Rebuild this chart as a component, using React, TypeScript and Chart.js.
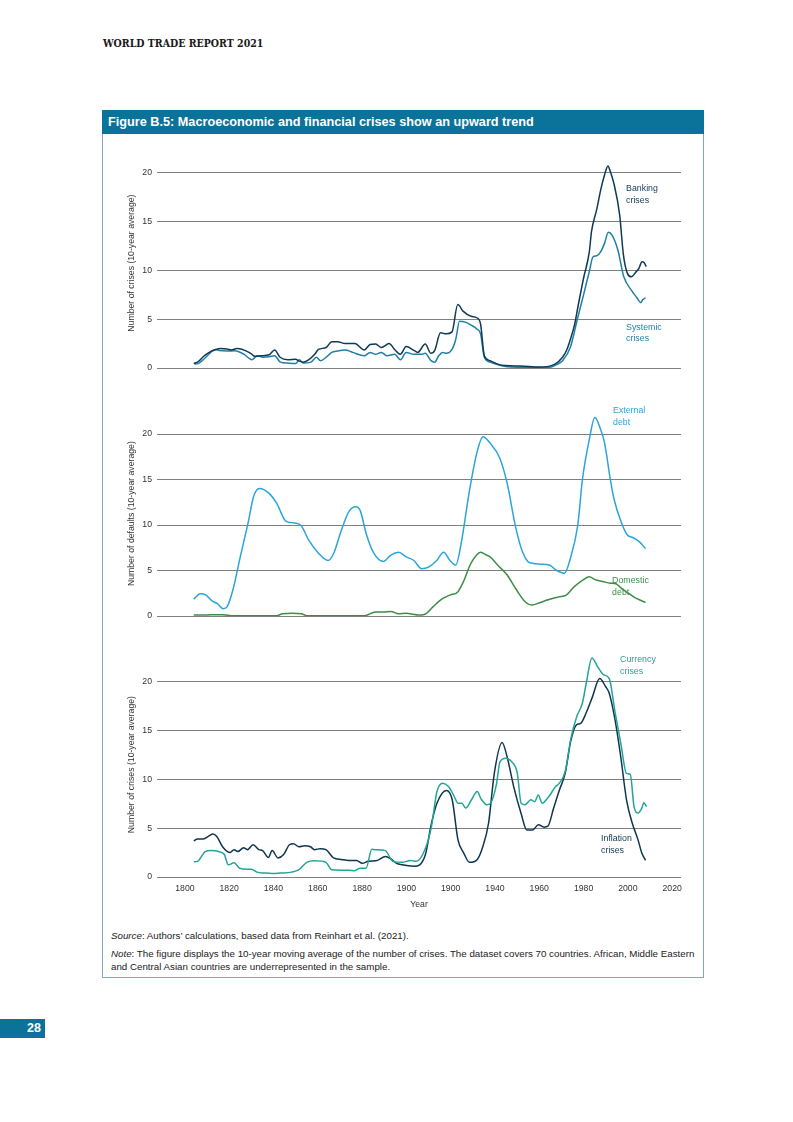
import React, { useEffect, useRef } from "react";
import { Chart, registerables } from "chart.js";

Chart.register(...registerables);

// ---------- axis data ----------
const X_MIN = 1787.4;
const X_MAX = 2024;
const tickYears = [1800, 1820, 1840, 1860, 1880, 1900, 1920, 1940, 1960, 1980, 2000, 2020];
const tickLabels = ["1800", "1820", "1840", "1860", "1880", "1900", "1900", "1940", "1960", "1980", "2000", "2020"];
const yTickValues = [0, 5, 10, 15, 20];

// ---------- panel 1: banking / systemic ----------
const bankingYears = [1804, 1806, 1808.5, 1811, 1814, 1816, 1819, 1821, 1823.5, 1826, 1828, 1830, 1831.5, 1834.5, 1838, 1840.5, 1843, 1846.5, 1850, 1851.7, 1853.4, 1856, 1858.6, 1860.3, 1863.8, 1866.3, 1868.9, 1872.4, 1876.7, 1881, 1883.6, 1886.1, 1888.7, 1892.2, 1894.7, 1897.3, 1899.9, 1903.4, 1905.1, 1908.5, 1911.1, 1912.8, 1915.4, 1918, 1920.6, 1923.2, 1925.7, 1929.2, 1931.8, 1933.5, 1935.2, 1937.8, 1941.2, 1944.7, 1951.6, 1960.2, 1967.1, 1970.5, 1972.5, 1974, 1976, 1977.4, 1980, 1982.6, 1983.6, 1986, 1987.7, 1989.5, 1991, 1992, 1993.6, 1996.3, 1998, 1999.8, 2001.6, 2003.5, 2005, 2006.4, 2007.3, 2008.3];
const bankingValues = [0.45, 0.65, 1.2, 1.6, 1.9, 2.0, 1.95, 1.85, 2.0, 1.9, 1.7, 1.45, 1.2, 1.25, 1.35, 1.85, 1.1, 0.85, 0.9, 0.7, 0.6, 0.85, 1.4, 1.9, 2.1, 2.7, 2.7, 2.5, 2.5, 1.85, 2.4, 2.45, 2.1, 2.5, 1.9, 1.4, 2.2, 1.8, 1.6, 2.45, 1.5, 1.8, 3.6, 3.5, 3.7, 6.5, 5.8, 5.3, 5.15, 4.5, 1.25, 0.75, 0.4, 0.25, 0.2, 0.1, 0.4, 1.1, 1.9, 2.9, 4.5, 6.2, 9.2, 11.9, 14, 16.3, 18.2, 19.8, 20.7, 20.2, 19, 15.7, 11.6, 9.7, 9.35, 9.8, 10.2, 10.9, 10.8, 10.4];

const systemicYears = [1804.3, 1806, 1809, 1812.1, 1813.8, 1815.5, 1819, 1822.4, 1826.7, 1830.2, 1832.8, 1835.3, 1837.9, 1840.5, 1843.1, 1846.5, 1850, 1851.7, 1853.4, 1856.9, 1859.4, 1861.2, 1863.8, 1866.3, 1868.9, 1872.4, 1875.8, 1881, 1883.6, 1886.1, 1888.7, 1891.3, 1894.7, 1897.3, 1899.9, 1903.4, 1906.8, 1908.5, 1911.1, 1912.8, 1914.6, 1916.3, 1918, 1920.6, 1922.3, 1924, 1926.6, 1929.2, 1931.8, 1933.5, 1935.2, 1937.8, 1941.2, 1944.7, 1952, 1960, 1965, 1967.9, 1970.5, 1974, 1977.4, 1980, 1982.6, 1984.3, 1986, 1987.7, 1989.5, 1991.2, 1992.9, 1995.5, 1998.1, 2001.5, 2004.1, 2005.8, 2006.7, 2008];
const systemicValues = [0.4, 0.45, 1.0, 1.7, 1.9, 1.8, 1.75, 1.76, 1.4, 0.85, 1.25, 1.1, 1.15, 1.25, 0.6, 0.5, 0.47, 0.85, 0.5, 0.6, 1.1, 0.75, 1.1, 1.6, 1.75, 1.85, 1.6, 1.25, 1.6, 1.4, 1.6, 1.25, 1.4, 0.85, 1.6, 1.4, 1.4, 1.5, 0.75, 0.6, 1.25, 1.6, 1.5, 1.9, 2.95, 4.8, 4.7, 4.4, 4.0, 3.5, 1.1, 0.6, 0.35, 0.15, 0.08, 0.05, 0.08, 0.35, 0.75, 2.1, 5.2, 7.5, 9.9, 11.4, 11.5, 11.9, 12.8, 13.9, 13.6, 12.1, 9.4, 8.0, 7.2, 6.7, 7.0, 7.2];

// ---------- panel 2: external / domestic debt ----------
const externalYears = [1804, 1806.9, 1809.5, 1812.1, 1814.7, 1817.3, 1819, 1821.6, 1825, 1828.5, 1831, 1833.6, 1837.9, 1841.4, 1845.7, 1850.1, 1852.6, 1856, 1860.3, 1864.6, 1867.2, 1870.6, 1874.1, 1877.2, 1879.3, 1881.8, 1885.3, 1889.6, 1893, 1896.5, 1899.9, 1903.4, 1906.8, 1910.2, 1913.7, 1916.8, 1919.7, 1922.3, 1924.9, 1928.3, 1931.8, 1934.6, 1937.8, 1942.1, 1945.5, 1949.3, 1952.5, 1954.8, 1956.9, 1960.2, 1964.5, 1967.9, 1971.4, 1974, 1977.4, 1979.5, 1982.6, 1985.1, 1987.7, 1989.5, 1992.1, 1993.8, 1997.2, 1999.8, 2002.4, 2005, 2008];
const externalValues = [1.85, 2.45, 2.3, 1.7, 1.35, 0.8, 1.0, 2.8, 6.5, 10.2, 13.1, 14.0, 13.5, 12.4, 10.4, 10.2, 9.9, 8.3, 6.9, 6.1, 6.9, 9.4, 11.5, 12.0, 11.5, 9.1, 6.9, 6.0, 6.7, 7.0, 6.5, 6.1, 5.2, 5.4, 6.1, 7.0, 6.1, 5.6, 8.2, 13.5, 17.9, 19.7, 19.0, 17.4, 14.6, 9.8, 7.0, 6.0, 5.8, 5.7, 5.6, 5.0, 4.7, 6.3, 10.0, 15.0, 19.4, 21.8, 20.5, 19.0, 15.0, 12.8, 10.2, 8.9, 8.6, 8.2, 7.4];

const domesticYears = [1804, 1810, 1814, 1817.3, 1821.6, 1830, 1841.4, 1844, 1848.3, 1852.6, 1855.1, 1865, 1875, 1881, 1886.1, 1889.6, 1893, 1896.5, 1899.9, 1903, 1905.1, 1908.5, 1912, 1916.3, 1919.7, 1923.2, 1925.7, 1929.2, 1933.5, 1936.1, 1937.8, 1941.2, 1945.5, 1949.9, 1953.3, 1956.7, 1960.2, 1963.6, 1968.8, 1972.2, 1975.7, 1980, 1982.6, 1985.2, 1988.6, 1992.1, 1994.6, 1997.2, 2000.6, 2004.1, 2008];
const domesticValues = [0.1, 0.12, 0.15, 0.15, 0.03, 0.02, 0.02, 0.25, 0.3, 0.25, 0.03, 0.02, 0.02, 0.03, 0.45, 0.45, 0.5, 0.25, 0.3, 0.2, 0.1, 0.2, 1.0, 1.9, 2.3, 2.65, 3.75, 5.8, 7.0, 6.7, 6.5, 5.6, 4.5, 2.8, 1.65, 1.2, 1.45, 1.75, 2.1, 2.3, 3.2, 4.0, 4.3, 4.0, 3.8, 3.6, 3.55, 3.0, 2.45, 1.9, 1.5];

// ---------- panel 3: currency / inflation ----------
const currencyYears = [1804, 1805.7, 1809.2, 1811.8, 1815.2, 1817.8, 1819.6, 1822.2, 1824.7, 1828.2, 1829.9, 1832.5, 1836, 1839.4, 1842.9, 1848.1, 1851.5, 1855, 1858.5, 1863.7, 1866.2, 1870.6, 1874, 1876.6, 1879.2, 1881.8, 1884.4, 1886.1, 1890.5, 1893.9, 1898.2, 1901.7, 1904.3, 1907.7, 1911.2, 1913.8, 1916.4, 1919, 1921.6, 1923.3, 1925, 1926.8, 1929.4, 1932, 1933.7, 1936.3, 1938, 1940.6, 1942.3, 1944.9, 1947.5, 1950.1, 1951.8, 1953.6, 1956.2, 1957.9, 1959.6, 1961.3, 1963.9, 1967.4, 1969.1, 1971.7, 1974.3, 1976.9, 1979.5, 1981.2, 1983.8, 1986.4, 1989, 1991.6, 1994.2, 1996.8, 1999.4, 2001.1, 2002.8, 2004.6, 2006.3, 2007.2, 2008.5];
const currencyValues = [1.55, 1.6, 2.6, 2.7, 2.6, 2.3, 1.25, 1.45, 0.9, 0.8, 0.8, 0.5, 0.4, 0.35, 0.4, 0.5, 0.75, 1.5, 1.65, 1.5, 0.75, 0.7, 0.7, 0.65, 0.9, 0.9, 2.85, 2.8, 2.7, 1.6, 1.5, 1.7, 1.6, 2.45, 5.0, 8.75, 9.6, 9.25, 8.25, 7.55, 7.55, 7.05, 7.9, 8.75, 8.0, 7.4, 7.55, 9.4, 11.8, 12.15, 11.8, 10.6, 7.55, 7.4, 7.9, 7.7, 8.4, 7.55, 8.1, 9.25, 9.6, 10.8, 14.2, 16.4, 17.8, 19.8, 22.4, 21.5, 20.7, 20.3, 16.9, 13.7, 10.6, 10.5, 7.2, 6.55, 7.05, 7.6, 7.2];

const inflationYears = [1804, 1805.7, 1808.3, 1810.9, 1812.6, 1814.4, 1817, 1820.4, 1822.2, 1823.9, 1826.5, 1828.2, 1830.8, 1833.4, 1835.1, 1837.7, 1839.4, 1842, 1844.6, 1847.2, 1849, 1851.5, 1854.1, 1856.7, 1858.5, 1861.1, 1863.7, 1867.1, 1870.6, 1874, 1877.5, 1880.1, 1882.7, 1887, 1890.5, 1893, 1895.6, 1898.2, 1900.8, 1903.4, 1906, 1908.6, 1911.2, 1913.8, 1918.1, 1920.7, 1923.3, 1925.9, 1928.5, 1932, 1934.5, 1937.1, 1939.7, 1943.2, 1945.8, 1948.4, 1951.8, 1954.4, 1957, 1959.6, 1962.2, 1963.9, 1966.5, 1969.1, 1971.7, 1974.3, 1976.9, 1978.6, 1981.2, 1983.8, 1987.3, 1989.9, 1991.6, 1994.2, 1996.8, 1999.4, 2002, 2004.6, 2006.3, 2008];
const inflationValues = [3.7, 3.9, 3.9, 4.2, 4.4, 4.15, 3.1, 2.5, 2.8, 2.6, 3.0, 2.8, 3.3, 2.8, 2.7, 2.0, 2.7, 1.95, 2.3, 3.3, 3.4, 3.1, 3.2, 3.1, 2.8, 2.9, 2.8, 1.95, 1.8, 1.7, 1.7, 1.4, 1.6, 1.7, 2.1, 1.85, 1.4, 1.25, 1.15, 1.1, 1.25, 2.3, 5.35, 7.55, 8.85, 7.9, 3.8, 2.45, 1.5, 1.8, 3.1, 5.5, 10.6, 13.75, 12.0, 9.3, 6.5, 4.8, 4.8, 5.35, 5.1, 5.2, 7.05, 8.9, 10.6, 14.0, 15.6, 15.7, 16.8, 18.3, 20.3, 19.5, 18.8, 16.1, 12.3, 7.9, 5.5, 3.8, 2.45, 1.7];

// ---------- colours ----------
const C_BANKING = "#0f3a55";
const C_SYSTEMIC = "#1f7fa6";
const C_EXTERNAL = "#2ba5d8";
const C_DOMESTIC = "#3d8d46";
const C_CURRENCY = "#22a596";
const C_INFLATION = "#0f3550";
const C_TEAL = "#0b7399";

const FONT = '"Liberation Sans", Arial, Helvetica, sans-serif';

type Series = { label: string; years: number[]; values: number[]; color: string };
type Note = { lines: string[]; year: number; value: number; color: string };

const seriesLabelPlugin = {
  id: "seriesLabels",
  afterDatasetsDraw(chart: any, _args: any, opts: any) {
    const { ctx, scales } = chart;
    ctx.save();
    ctx.font = `8.8px ${FONT}`;
    ctx.textAlign = "left";
    ctx.textBaseline = "middle";
    (opts.items || []).forEach((n: Note) => {
      const x = scales.x.getPixelForValue(n.year);
      const y = scales.y.getPixelForValue(n.value);
      ctx.fillStyle = n.color;
      n.lines.forEach((t, i) => ctx.fillText(t, x, y + i * 11.8));
    });
    ctx.restore();
  },
};

type PanelProps = {
  top: number;
  height: number;
  padTop: number;
  padBottom: number;
  yMax: number;
  yTitle: string;
  series: Series[];
  notes: Note[];
  showX: boolean;
};

const CANVAS_LEFT = 104;
const CANVAS_WIDTH = 596;

function Panel(p: PanelProps) {
  const ref = useRef<HTMLCanvasElement>(null);
  useEffect(() => {
    const tickFont = { family: FONT, size: 8.7 };
    const chart = new Chart(ref.current as HTMLCanvasElement, {
      type: "line",
      data: {
        datasets: p.series.map((s) => ({
          label: s.label,
          data: s.years.map((yr, i) => ({ x: yr, y: s.values[i] })),
          borderColor: s.color,
          backgroundColor: s.color,
          borderWidth: 1.5,
          pointRadius: 0,
          tension: 0.4,
          cubicInterpolationMode: "monotone" as const,
          fill: false,
        })),
      },
      options: {
        responsive: false,
        animation: false,
        events: [],
        layout: { padding: { left: 0, right: 19, top: p.padTop, bottom: p.padBottom } },
        scales: {
          x: {
            type: "linear",
            min: X_MIN,
            max: X_MAX,
            display: p.showX,
            grid: { display: false, drawTicks: false },
            border: { display: false },
            afterBuildTicks: (axis: any) => {
              axis.ticks = tickYears.map((v) => ({ value: v }));
            },
            ticks: {
              autoSkip: false,
              maxRotation: 0,
              padding: 6.5,
              color: "#333",
              font: tickFont,
              callback: (_v: any, i: number) => tickLabels[i],
            },
            title: {
              display: p.showX,
              text: "Year",
              color: "#333",
              font: tickFont,
              padding: { top: 0, bottom: 3 },
            },
            afterFit: (s: any) => {
              if (p.showX) s.height = 36;
            },
          },
          y: {
            min: 0,
            max: p.yMax,
            afterBuildTicks: (axis: any) => {
              axis.ticks = yTickValues.map((v) => ({ value: v }));
            },
            grid: { color: "#808080", lineWidth: 1, drawTicks: false },
            border: { display: false },
            ticks: { color: "#333", font: tickFont, padding: 5 },
            title: {
              display: true,
              text: p.yTitle,
              color: "#333",
              font: tickFont,
              padding: { top: 22.2, bottom: 0 },
            },
            afterFit: (s: any) => {
              s.width = 53;
            },
          },
        },
        plugins: {
          legend: { display: false },
          tooltip: { enabled: false },
          seriesLabels: { items: p.notes },
        } as any,
      },
      plugins: [seriesLabelPlugin],
    } as any);
    return () => chart.destroy();
  }, []);
  return (
    <canvas
      ref={ref}
      width={CANVAS_WIDTH}
      height={p.height}
      style={{ position: "absolute", left: CANVAS_LEFT, top: p.top, width: CANVAS_WIDTH, height: p.height }}
    />
  );
}

export default function App() {
  return (
    <div
      style={{
        position: "absolute",
        left: 0,
        top: 0,
        width: 793,
        height: 1122,
        background: "#ffffff",
        fontFamily: FONT,
        color: "#222",
        overflow: "hidden",
      }}
    >
      <div
        style={{
          position: "absolute",
          left: 103,
          top: 36,
          fontFamily: '"DejaVu Serif Condensed", "DejaVu Serif", "Liberation Serif", serif',
          fontWeight: "bold",
          fontSize: 10.5,
          lineHeight: "14px",
          color: "#1a1a1a",
          whiteSpace: "nowrap",
        }}
      >
        WORLD TRADE REPORT 2021
      </div>

      <div
        style={{
          position: "absolute",
          left: 102,
          top: 110,
          width: 602,
          height: 868,
          border: "1px solid #7fa7c0",
          boxSizing: "border-box",
        }}
      />
      <div
        style={{
          position: "absolute",
          left: 102,
          top: 110,
          width: 602,
          height: 24,
          background: C_TEAL,
          color: "#fff",
          fontWeight: "bold",
          fontSize: 12.7,
          lineHeight: "24px",
          paddingLeft: 6,
          boxSizing: "border-box",
          whiteSpace: "nowrap",
        }}
      >
        Figure B.5: Macroeconomic and financial crises show an upward trend
      </div>

      <Panel
        top={148}
        height={232}
        padTop={7.7}
        padBottom={12}
        yMax={21.5}
        yTitle="Number of crises (10-year average)"
        showX={false}
        series={[
          { label: "Banking crises", years: bankingYears, values: bankingValues, color: C_BANKING },
          { label: "Systemic crises", years: systemicYears, values: systemicValues, color: C_SYSTEMIC },
        ]}
        notes={[
          { lines: ["Banking", "crises"], year: 1999.2, value: 18.36, color: C_BANKING },
          { lines: ["Systemic", "crises"], year: 1999.2, value: 4.18, color: C_SYSTEMIC },
        ]}
      />

      <Panel
        top={392}
        height={238}
        padTop={19.25}
        padBottom={14}
        yMax={22.5}
        yTitle="Number of defaults (10-year average)"
        showX={false}
        series={[
          { label: "External debt", years: externalYears, values: externalValues, color: C_EXTERNAL },
          { label: "Domestic debt", years: domesticYears, values: domesticValues, color: C_DOMESTIC },
        ]}
        notes={[
          { lines: ["External", "debt"], year: 1993.3, value: 22.56, color: C_EXTERNAL },
          { lines: ["Domestic", "debt"], year: 1992.9, value: 3.85, color: C_DOMESTIC },
        ]}
      />

      <Panel
        top={640}
        height={276}
        padTop={12.2}
        padBottom={3}
        yMax={23}
        yTitle="Number of crises (10-year average)"
        showX={true}
        series={[
          { label: "Currency crises", years: currencyYears, values: currencyValues, color: C_CURRENCY },
          { label: "Inflation crises", years: inflationYears, values: inflationValues, color: C_INFLATION },
        ]}
        notes={[
          { lines: ["Currency", "crises"], year: 1996.5, value: 22.2, color: C_CURRENCY },
          { lines: ["Inflation", "crises"], year: 1987.9, value: 3.96, color: C_INFLATION },
        ]}
      />

      <div
        style={{
          position: "absolute",
          left: 111,
          top: 930,
          fontSize: 9.75,
          lineHeight: "12.5px",
          color: "#222",
          whiteSpace: "nowrap",
        }}
      >
        <div>
          <i>Source</i>: Authors’ calculations, based data from Reinhart et al. (2021).
        </div>
        <div style={{ marginTop: 5.5 }}>
          <i>Note</i>: The figure displays the 10-year moving average of the number of crises. The dataset covers 70 countries. African, Middle Eastern
          <br />
          and Central Asian countries are underrepresented in the sample.
        </div>
      </div>

      <div
        style={{
          position: "absolute",
          left: 0,
          top: 1019,
          width: 45,
          height: 19,
          background: C_TEAL,
          color: "#fff",
          fontWeight: "bold",
          fontSize: 12.5,
          lineHeight: "19px",
          textAlign: "right",
          paddingRight: 4,
          boxSizing: "border-box",
        }}
      >
        28
      </div>
    </div>
  );
}
